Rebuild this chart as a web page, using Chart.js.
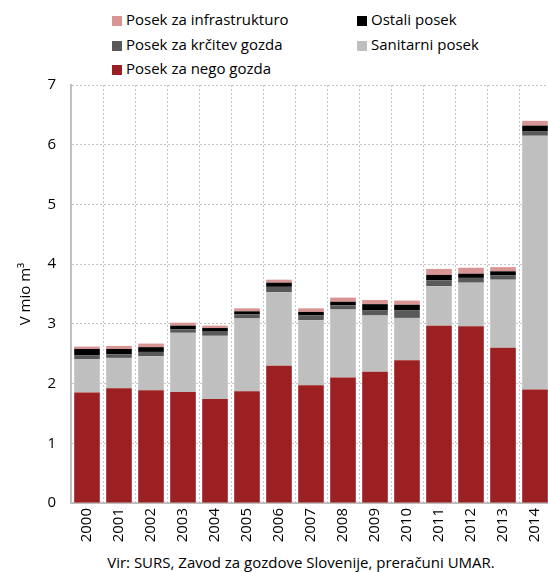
<!DOCTYPE html>
<html>
<head>
<meta charset="utf-8">
<script src="https://cdn.jsdelivr.net/npm/chart.js@4"></script>
<style>
  body { margin: 0; width: 548px; height: 572px; overflow: hidden; background: #fff;
         font-family: "Open Sans", sans-serif; position: relative; }
  #posek { position: absolute; left: 0; top: 0; }
  #legend { position: absolute; left: 0; top: 0; width: 548px; height: 85px; font-size: 15px; color: #000; }
  .item { position: absolute; white-space: nowrap; line-height: 18px; }
  .box { display: inline-block; width: 10px; height: 10px; margin-right: 4px; vertical-align: -1px; }
  #source { position: absolute; left: 50px; width: 502px; top: 552px; text-align: center;
            font-size: 15px; line-height: 20px; color: #000; white-space: nowrap; }
</style>
</head>
<body>
<div id="legend"></div>
<canvas id="posek" width="558" height="548"></canvas>
<div id="source">Vir: SURS, Zavod za gozdove Slovenije, preračuni UMAR.</div>
<script>
const years = ['2000','2001','2002','2003','2004','2005','2006','2007','2008','2009','2010','2011','2012','2013','2014'];

// mio m3
const negoGozda      = [1.85, 1.92, 1.89, 1.86, 1.74, 1.87, 2.30, 1.97, 2.10, 2.20, 2.39, 2.97, 2.96, 2.60, 1.90];
const sanitarni      = [0.56, 0.51, 0.57, 0.99, 1.06, 1.22, 1.23, 1.09, 1.14, 0.94, 0.71, 0.66, 0.73, 1.14, 4.25];
const krcitev        = [0.06, 0.06, 0.07, 0.06, 0.08, 0.07, 0.09, 0.08, 0.07, 0.09, 0.13, 0.10, 0.08, 0.07, 0.07];
const ostali         = [0.11, 0.09, 0.08, 0.06, 0.05, 0.05, 0.07, 0.06, 0.06, 0.10, 0.09, 0.09, 0.07, 0.07, 0.10];
const infrastruktura = [0.04, 0.05, 0.06, 0.05, 0.04, 0.05, 0.05, 0.06, 0.07, 0.07, 0.07, 0.10, 0.10, 0.07, 0.08];

const yTicks = [0, 1, 2, 3, 4, 5, 6, 7];

Chart.defaults.font.family = '"Open Sans", sans-serif';
Chart.defaults.font.size = 15;
Chart.defaults.color = '#000';

const datasets = [
  { label: 'Posek za nego gozda',     data: negoGozda,      backgroundColor: '#9c1f22' },
  { label: 'Sanitarni posek',         data: sanitarni,      backgroundColor: '#bfbfbf' },
  { label: 'Posek za krčitev gozda',  data: krcitev,        backgroundColor: '#595959' },
  { label: 'Ostali posek',            data: ostali,         backgroundColor: '#000000' },
  { label: 'Posek za infrastrukturo', data: infrastruktura, backgroundColor: '#d99594' },
];

const chart = new Chart(document.getElementById('posek'), {
  type: 'bar',
  data: { labels: years, datasets: datasets },
  options: {
    responsive: false,
    animation: false,
    layout: { padding: { top: 85, right: 0, left: 0, bottom: 0 } },
    datasets: { bar: { barPercentage: 0.8, categoryPercentage: 1.0, borderWidth: 0 } },
    plugins: { legend: { display: false }, tooltip: { enabled: false } },
    scales: {
      x: {
        stacked: true,
        grid: { offset: true, color: '#c4c4c4', lineWidth: 1, drawTicks: false },
        border: { display: true, color: '#bfbfbf', width: 2, dash: [2, 2] },
        ticks: { minRotation: 90, maxRotation: 90, padding: 5, autoSkip: false },
        afterFit: (scale) => { scale.height = 45; }
      },
      y: {
        stacked: true,
        min: 0,
        max: 7,
        afterBuildTicks: (scale) => { scale.ticks = yTicks.map(v => ({ value: v })); },
        grid: { color: '#c4c4c4', lineWidth: 1, drawTicks: false },
        border: { display: true, color: '#bfbfbf', width: 2, dash: [2, 2] },
        ticks: { padding: 15 },
        title: { display: true, text: 'V mio m³', padding: { top: 17, bottom: 0 } },
        afterFit: (scale) => { scale.width = 71; }
      }
    }
  }
});

// legend: two columns, top of the stack first
const legendOrder = [4, 3, 2, 1, 0];
const legendEl = document.getElementById('legend');
legendOrder.forEach((idx, i) => {
  const ds = chart.data.datasets[idx];
  const el = document.createElement('div');
  el.className = 'item';
  el.style.left = (i % 2 === 0 ? 112 : 357) + 'px';
  el.style.top = (10 + Math.floor(i / 2) * 24.5) + 'px';
  el.innerHTML = '<span class="box" style="background:' + ds.backgroundColor + '"></span>' + ds.label;
  legendEl.appendChild(el);
});
</script>
</body>
</html>
